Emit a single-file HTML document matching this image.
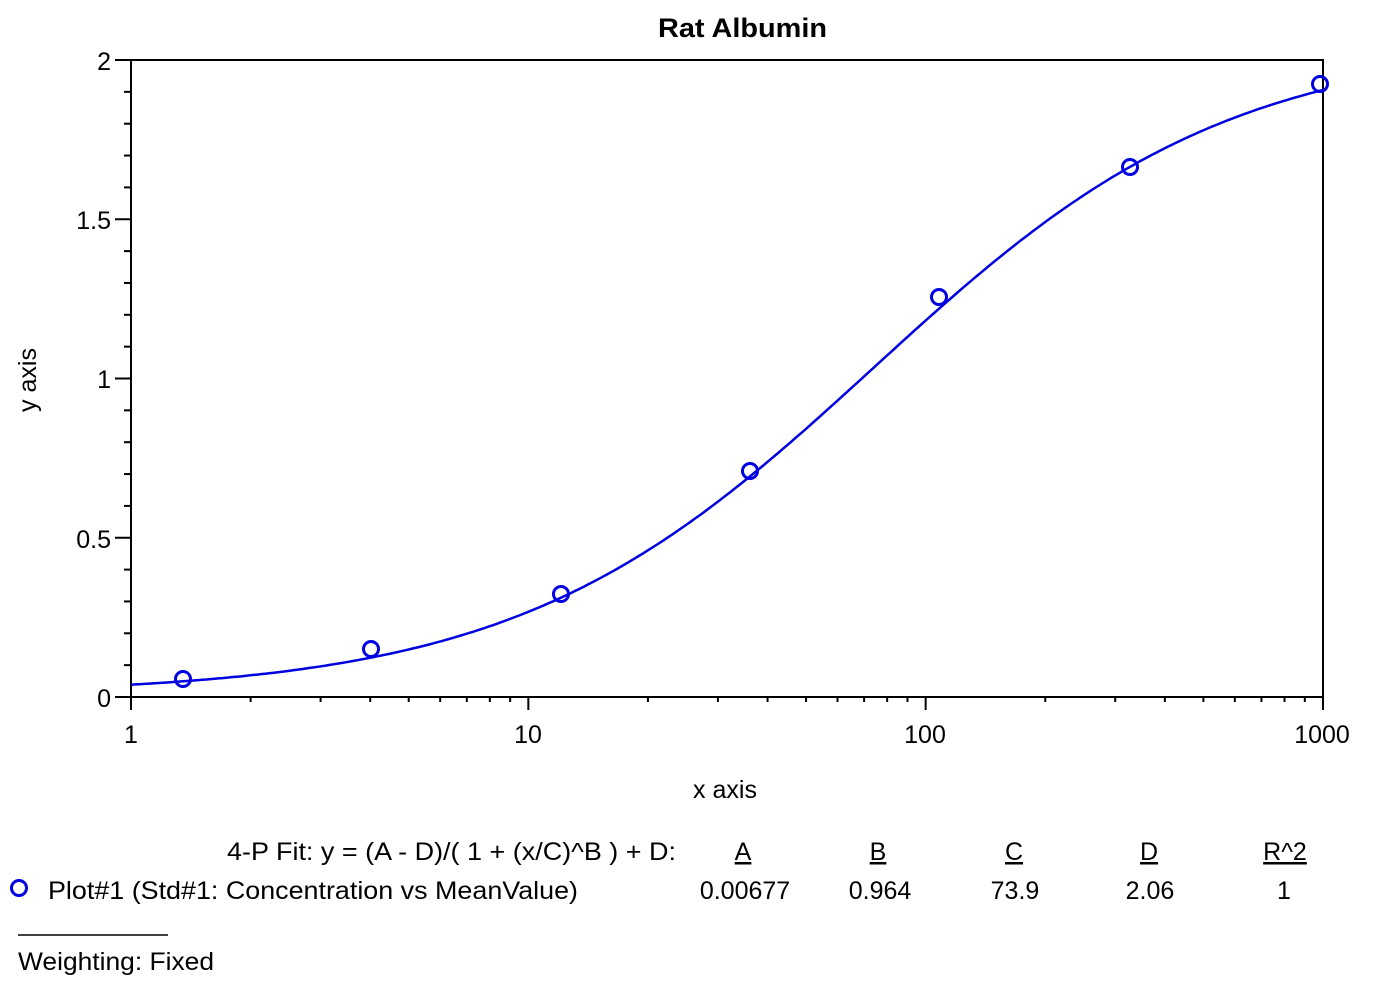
<!DOCTYPE html>
<html><head><meta charset="utf-8"><style>
body{margin:0;background:#fff;}
svg{display:block;font-family:"Liberation Sans",Arial,sans-serif;}
</style></head><body>
<svg id="s" width="1391" height="1005" xmlns="http://www.w3.org/2000/svg">
<rect width="1391" height="1005" fill="#fff"/>
<text x="658" y="37" font-size="27" font-weight="bold" textLength="169" lengthAdjust="spacingAndGlyphs">Rat Albumin</text>
<rect x="131" y="60" width="1192" height="637" fill="none" stroke="#000" stroke-width="2"/>
<g id="ticks" stroke="#000" stroke-width="2"></g>
<g font-size="25" text-anchor="end">
<text x="111" y="707">0</text><text x="111" y="548">0.5</text><text x="111" y="388">1</text><text x="111" y="229">1.5</text><text x="111" y="70">2</text>
</g>
<g font-size="25" text-anchor="middle">
<text x="131" y="743">1</text><text x="528" y="743">10</text><text x="925" y="743">100</text><text x="1322" y="743">1000</text>
<text x="725" y="798">x axis</text>
</g>
<text transform="translate(36,380) rotate(-90)" font-size="25" text-anchor="middle">y axis</text>
<path id="curve" fill="none" stroke="#0000e0" stroke-width="2.5"/>
<g fill="none" stroke="#0000e0" stroke-width="3">
<circle cx="183" cy="679" r="7.5"/><circle cx="371" cy="649" r="7.5"/><circle cx="561" cy="594" r="7.5"/><circle cx="750" cy="471" r="7.5"/><circle cx="939" cy="297" r="7.5"/><circle cx="1130" cy="167" r="7.5"/><circle cx="1320" cy="84" r="7.5"/>
<circle cx="19" cy="888" r="7.5"/>
</g>
<g font-size="25">
<text x="227" y="860" textLength="449" lengthAdjust="spacingAndGlyphs">4-P Fit: y = (A - D)/( 1 + (x/C)^B ) + D:</text>
<text x="48" y="899" textLength="530" lengthAdjust="spacingAndGlyphs">Plot#1 (Std#1: Concentration vs MeanValue)</text>
<text x="18" y="970" textLength="196" lengthAdjust="spacingAndGlyphs">Weighting: Fixed</text>
</g>
<line x1="18" y1="935" x2="168" y2="935" stroke="#000" stroke-width="1.5"/>
<g font-size="25" text-anchor="middle">
<text x="743" y="860" text-decoration="underline">A</text>
<text x="878" y="860" text-decoration="underline">B</text>
<text x="1014" y="860" text-decoration="underline">C</text>
<text x="1149" y="860" text-decoration="underline">D</text>
<text x="1285" y="860" text-decoration="underline">R^2</text>
<text x="745" y="899">0.00677</text><text x="880" y="899">0.964</text><text x="1015" y="899">73.9</text><text x="1150" y="899">2.06</text><text x="1284" y="899">1</text>
</g>
<script>
var NS="http://www.w3.org/2000/svg";
var L=131,R=1323,T=60,B=697,dec=(R-L)/3,py=(B-T)/2;
function X(v){return L+Math.log10(v)*dec}function Y(v){return B-v*py}
var g=document.getElementById('ticks');
function ln(x1,y1,x2,y2){var e=document.createElementNS(NS,'line');e.setAttribute('x1',x1);e.setAttribute('y1',y1);e.setAttribute('x2',x2);e.setAttribute('y2',y2);g.appendChild(e);}
for(var i=0;i<=20;i++){var y=Y(i*0.1),len=(i%5==0)?16:7;ln(L-len,y,L,y);}
for(var d=0;d<3;d++)for(var k=1;k<=10;k++){if(d<2&&k==10)continue;var x=X(k*Math.pow(10,d)),len=(k==1||k==10)?13:5;ln(x,B,x,B+len);}
var A=0.00677,Bb=0.964,C=73.9,D=2.06,p='';
for(var j=0;j<=300;j++){var lx=j/100,x=Math.pow(10,lx),yv=(A-D)/(1+Math.pow(x/C,Bb))+D;p+=(j?'L':'M')+X(x).toFixed(1)+' '+Y(yv).toFixed(1);}
document.getElementById('curve').setAttribute('d',p);
</script>
</svg>
</body></html>
